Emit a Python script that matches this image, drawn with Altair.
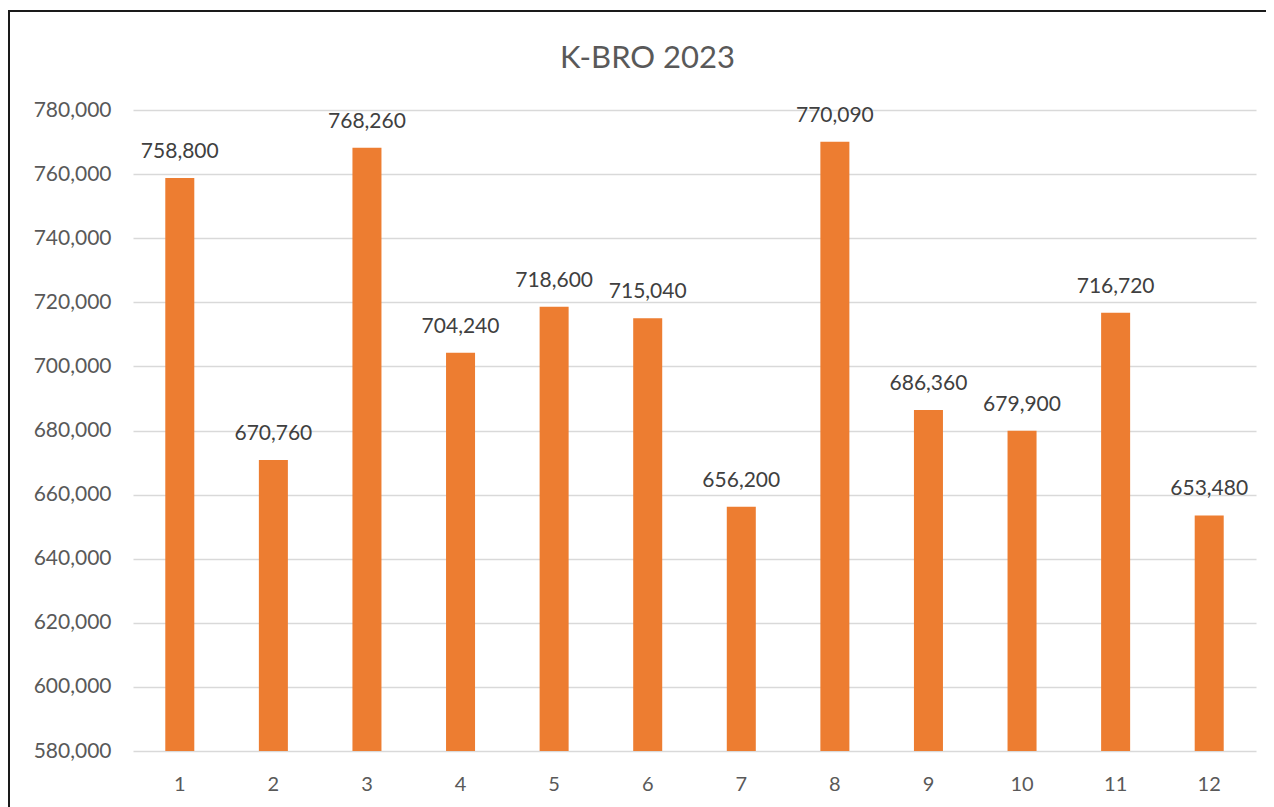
import altair as alt
import pandas as pd

months = ["1", "2", "3", "4", "5", "6", "7", "8", "9", "10", "11", "12"]
values = [758800, 670760, 768260, 704240, 718600, 715040, 656200, 770090, 686360, 679900, 716720, 653480]
y_ticks = [580000, 600000, 620000, 640000, 660000, 680000, 700000, 720000, 740000, 760000, 780000]

df = pd.DataFrame({"month": months, "value": values})

FONT = "Lato"
W, H = 1123, 641

base = alt.Chart(df)

bars = base.mark_bar(color="#ED7D31", clip=True).encode(
    x=alt.X("month:N", sort=months, title=None,
            scale=alt.Scale(paddingInner=0.69, paddingOuter=0.345),
            axis=alt.Axis(labelAngle=0, domain=False, ticks=False, labelFontSize=20,
                          labelColor="#595959", labelFont=FONT, labelPadding=23)),
    y=alt.Y("value:Q", title=None,
            scale=alt.Scale(domain=[580000, 780000], zero=False, nice=False),
            axis=alt.Axis(values=y_ticks, format=",d", formatType="number",
                          domain=False, ticks=False, labelFontSize=21, labelColor="#595959",
                          labelFont=FONT, labelPadding=22, gridColor="#D9D9D9", gridWidth=1.5)),
)

labels = base.mark_text(baseline="bottom", dy=-16, fontSize=21, font=FONT, color="#404040").encode(
    x=alt.X("month:N", sort=months),
    y=alt.Y("value:Q"),
    text=alt.Text("value:Q", format=","),
)

border_v = alt.Chart(pd.DataFrame({"a": [0]})).mark_rule(color="#1a1a1a", strokeWidth=2).encode(
    x=alt.value(-124), y=alt.value(-99), y2=alt.value(H + 60)
)
border_h = alt.Chart(pd.DataFrame({"a": [0]})).mark_rule(color="#1a1a1a", strokeWidth=2).encode(
    x=alt.value(-125), x2=alt.value(W + 20), y=alt.value(-99)
)

chart = alt.layer(bars, labels, border_v, border_h).properties(
    width=W, height=H,
    title=alt.TitleParams("K-BRO 2023", fontSize=31, font=FONT, color="#595959",
                          fontWeight="normal", anchor="middle", frame="group",
                          baseline="alphabetic", dx=-47, offset=-89),
    padding={"left": 125, "top": 102, "right": 10, "bottom": 56},
    autosize=alt.AutoSizeParams(type="none"),
).resolve_axis(y="shared").configure_view(stroke=None)

chart.save("out.html", embed_options={"renderer": "svg", "actions": False})
